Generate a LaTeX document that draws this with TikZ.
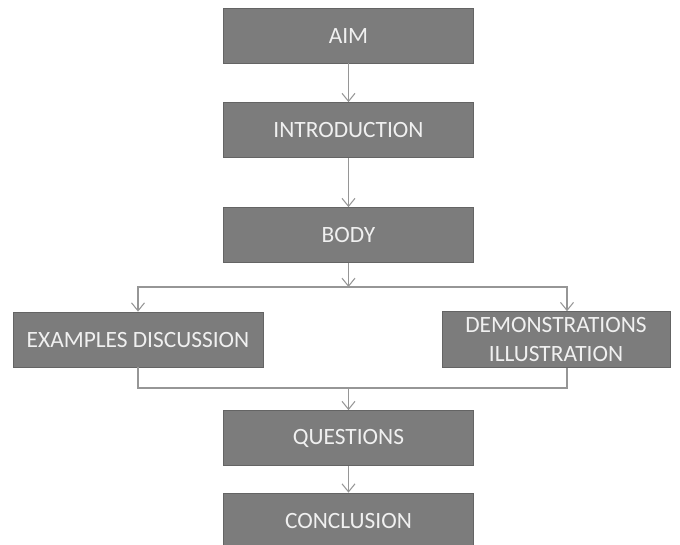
\documentclass[tikz,border=0pt]{standalone}
\usepackage{fontspec}
\setmainfont{Carlito}
\usepackage{xcolor}
\usetikzlibrary{arrows.meta, positioning}
\definecolor{boxfill}{RGB}{124,124,124}
\definecolor{boxedge}{RGB}{100,100,100}
\definecolor{linkgray}{RGB}{150,150,150}
\tikzstyle{stage} = [rectangle, minimum width=5cm, minimum height=1.1cm, text centered, draw=boxedge, fill=boxfill, text=white!94!black, font=\fontsize{13.3}{16.4}\selectfont]
\tikzstyle{link}  = [draw=linkgray, line width=0.6pt]
\tikzstyle{arrow} = [link, -{Straight Barb[length=1.6mm,width=2.6mm]}]
\tikzset{every node/.style={align=center}}

\begin{document}
\begin{tikzpicture}
    \useasboundingbox (0,0) rectangle (13.6,-10.88);
    \node[stage] (aim)   at (6.97,-0.71)  {AIM};
    \node[stage] (intro) at (6.97,-2.60)  {INTRODUCTION};
    \node[stage] (body)  at (6.97,-4.70)  {BODY};
    \node[stage] (ex)    at (2.76,-6.79)  {EXAMPLES DISCUSSION};
    \node[stage, minimum width=4.56cm] (demo) at (11.12,-6.79) {DEMONSTRATIONS\\ILLUSTRATION};
    \node[stage] (ques)  at (6.97,-8.76)  {QUESTIONS};
    \node[stage] (conc)  at (6.97,-10.41) {CONCLUSION};

    \coordinate (split)   at (6.97,-5.74);
    \coordinate (rbranch) at (11.34,-5.74);
    \coordinate (merge)   at (6.97,-7.76);

    \draw [arrow] (aim) -- (intro);
    \draw [arrow] (intro) -- (body);
    \draw [arrow] (body) -- (split);
    \draw [arrow] (split) -| (ex.north);
    \draw [arrow] (split) -- (rbranch) -- (rbranch |- demo.north);
    \draw [link]  (ex.south) |- (merge);
    \draw [link]  (rbranch |- demo.south) |- (merge);
    \draw [arrow] (merge) -- (ques);
    \draw [arrow] (ques) -- (conc);
\end{tikzpicture}
\end{document}
